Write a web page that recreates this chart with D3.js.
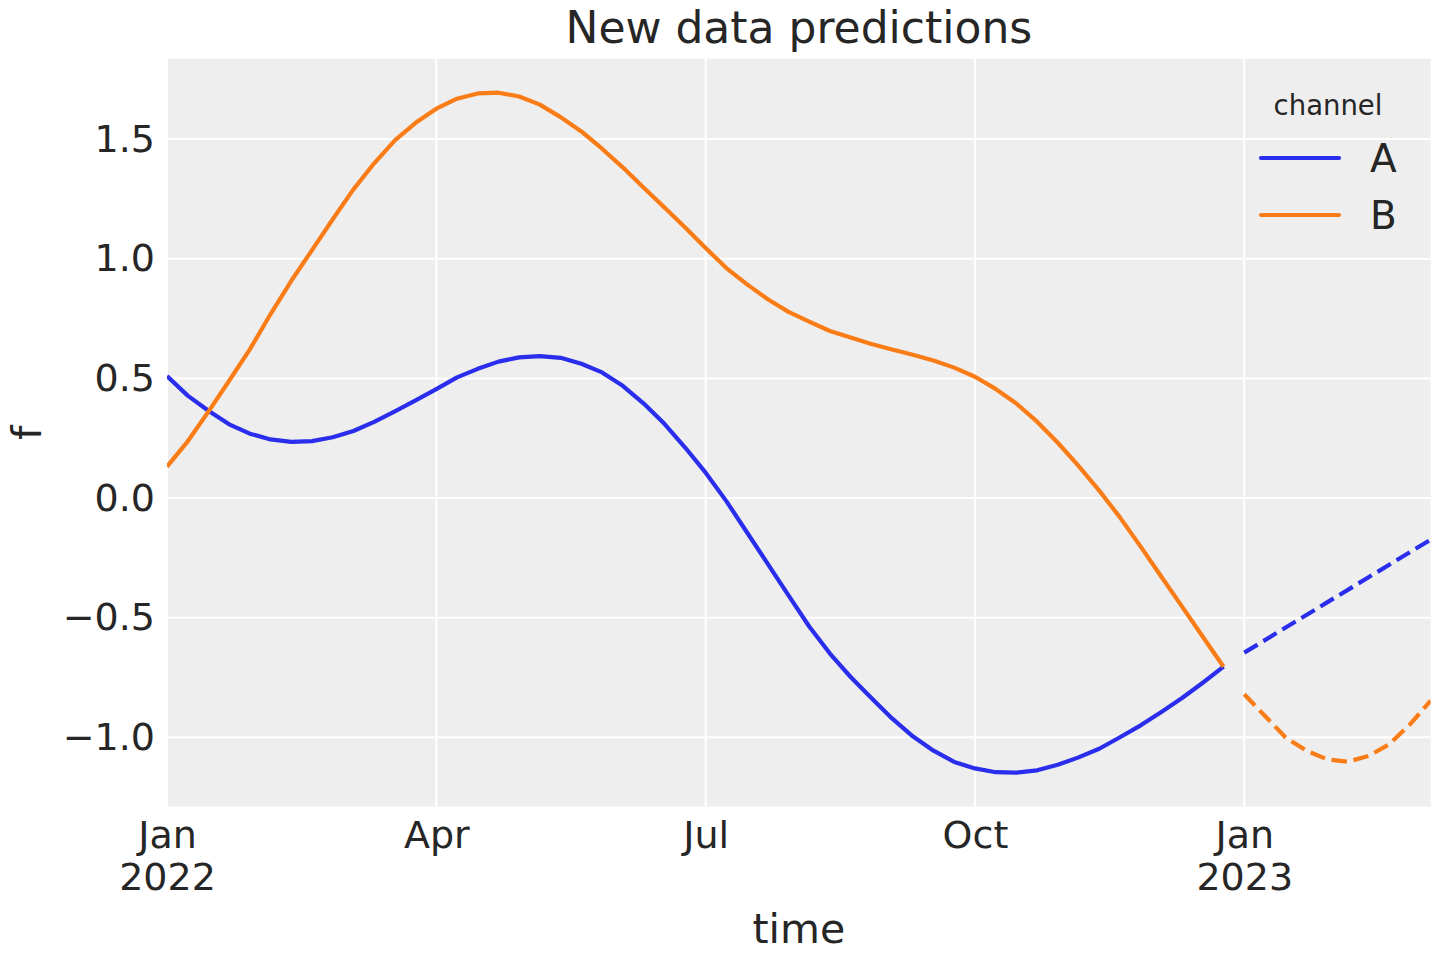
<!DOCTYPE html>
<html>
<head>
<meta charset="utf-8">
<title>New data predictions</title>
<script src="https://cdn.jsdelivr.net/npm/d3@7"></script>
<style>
  body { margin: 0; background: #ffffff; }
  svg text { font-family: "DejaVu Sans", sans-serif; fill: #262626; }
</style>
</head>
<body>
<svg id="chart" width="1440" height="960"></svg>
<script>
// weekly series, first week ends Sun 2 Jan 2022
var startDate = "2022-01-02";
var channels = ["A", "B"];
var channelColors = ["#2a2eec", "#fa7c17"];

// fitted values (solid), weeks 0..51
var fitA = [0.510, 0.428, 0.365, 0.308, 0.269, 0.245, 0.235, 0.238, 0.254, 0.280,
	    0.318, 0.362, 0.408, 0.455, 0.504, 0.540, 0.570, 0.588, 0.593, 0.586,
	    0.561, 0.525, 0.469, 0.396, 0.311, 0.212, 0.106, -0.013, -0.144, -0.275,
	    -0.407, -0.537, -0.650, -0.748, -0.836, -0.921, -0.996, -1.056, -1.103, -1.130,
	    -1.146, -1.148, -1.138, -1.115, -1.084, -1.048, -1.000, -0.950, -0.894, -0.836,
	    -0.772, -0.705];
var fitB = [0.131, 0.237, 0.361, 0.490, 0.621, 0.769, 0.908, 1.036, 1.165, 1.290,
	    1.399, 1.495, 1.568, 1.627, 1.669, 1.691, 1.694, 1.678, 1.644, 1.592,
	    1.532, 1.460, 1.382, 1.298, 1.215, 1.132, 1.045, 0.961, 0.893, 0.831,
	    0.778, 0.737, 0.698, 0.671, 0.644, 0.621, 0.599, 0.575, 0.545, 0.507,
	    0.456, 0.395, 0.319, 0.231, 0.134, 0.031, -0.081, -0.203, -0.329, -0.454,
	    -0.580, -0.705];

// new data predictions (dashed), weeks 52..61
var predA = [-0.646, -0.594, -0.541, -0.489, -0.436, -0.384, -0.331, -0.279, -0.226, -0.174];
var predB = [-0.820, -0.911, -1.001, -1.056, -1.092, -1.102, -1.078, -1.029, -0.946, -0.847];

var xTickDates = ["2022-01-02", "2022-04-03", "2022-07-03", "2022-10-02", "2023-01-01"];
var yTicks = [-1.0, -0.5, 0.0, 0.5, 1.0, 1.5];

var parse = d3.timeParse("%Y-%m-%d");
var t0 = parse(startDate);

// attach a week date to every value
var toPoints = function(vals, offset){
    return vals.map(function(v, i){
	return {date: d3.timeWeek.offset(t0, offset + i), value: v};
    });
};

var fitSeries = [toPoints(fitA, 0), toPoints(fitB, 0)];
var predSeries = [toPoints(predA, fitA.length), toPoints(predB, fitB.length)];

var margin = {left: 167, right: 1430.7, top: 58.7, bottom: 806.7};
var lw = 4.2;//line width, dashes follow matplotlib's 3.7/1.6 ratio

var svg = d3.select("#chart");

var lastDate = predSeries[0][predSeries[0].length - 1].date;
var x = d3.scaleTime()
    .domain([t0, lastDate])
    .range([margin.left, margin.right]);

// matplotlib style 5% padding on the y range
var allVals = fitA.concat(fitB, predA, predB);
var ext = d3.extent(allVals);
var pad = (ext[1] - ext[0]) * 0.05;
var y = d3.scaleLinear()
    .domain([ext[0] - pad, ext[1] + pad])
    .range([margin.bottom, margin.top]);

// background of the axes
svg.append("rect")
    .attr("x", margin.left)
    .attr("y", margin.top)
    .attr("width", margin.right - margin.left)
    .attr("height", margin.bottom - margin.top)
    .attr("fill", "#eeeeee");

svg.append("clipPath").attr("id", "plot-clip")
    .append("rect")
    .attr("x", margin.left)
    .attr("y", margin.top)
    .attr("width", margin.right - margin.left)
    .attr("height", margin.bottom - margin.top);

var xTicks = xTickDates.map(parse);

// grid
var grid = svg.append("g").attr("class", "grid");
grid.selectAll("line.gx").data(xTicks).enter()
    .append("line").attr("class", "gx")
    .attr("x1", function(d){return x(d);})
    .attr("x2", function(d){return x(d);})
    .attr("y1", margin.top)
    .attr("y2", margin.bottom)
    .attr("stroke", "#ffffff")
    .attr("stroke-width", 2);
grid.selectAll("line.gy").data(yTicks).enter()
    .append("line").attr("class", "gy")
    .attr("x1", margin.left)
    .attr("x2", margin.right)
    .attr("y1", function(d){return y(d);})
    .attr("y2", function(d){return y(d);})
    .attr("stroke", "#ffffff")
    .attr("stroke-width", 2);

// y axis, no spine or tick marks
var yAxis = d3.axisLeft(y)
    .tickValues(yTicks)
    .tickFormat(d3.format(".1f"))
    .tickSize(0)
    .tickPadding(12);
var gy = svg.append("g")
    .attr("transform", "translate(" + margin.left + ",0)")
    .call(yAxis);
gy.select(".domain").remove();
gy.selectAll("text")
    .attr("font-size", "38px")
    .attr("fill", "#262626")
    .attr("font-family", "DejaVu Sans, sans-serif");

// x axis, month label plus year under january
var monthFmt = d3.timeFormat("%b");
var yearFmt = d3.timeFormat("%Y");
var xAxis = d3.axisBottom(x)
    .tickValues(xTicks)
    .tickFormat(monthFmt)
    .tickSize(0)
    .tickPadding(10);
var gx = svg.append("g")
    .attr("transform", "translate(0," + margin.bottom + ")")
    .call(xAxis);
gx.select(".domain").remove();
gx.selectAll("text")
    .attr("font-size", "38px")
    .attr("fill", "#262626")
    .attr("font-family", "DejaVu Sans, sans-serif")
    .attr("dy", null)
    .attr("y", 41)
    .each(function(d){
	if(d.getMonth() == 0){
	    d3.select(this.parentNode).append("text")
		.attr("y", 83)
		.attr("text-anchor", "middle")
		.attr("font-size", "38px")
		.attr("fill", "#262626")
		.attr("font-family", "DejaVu Sans, sans-serif")
		.text(yearFmt(d));
	}
    });

// the lines
var line = d3.line()
    .x(function(d){return x(d.date);})
    .y(function(d){return y(d.value);});

var plot = svg.append("g").attr("clip-path", "url(#plot-clip)");

fitSeries.forEach(function(s, i){
    plot.append("path")
	.datum(s)
	.attr("d", line)
	.attr("fill", "none")
	.attr("stroke", channelColors[i])
	.attr("stroke-width", lw)
	.attr("stroke-linejoin", "round");
});

predSeries.forEach(function(s, i){
    plot.append("path")
	.datum(s)
	.attr("d", line)
	.attr("fill", "none")
	.attr("stroke", channelColors[i])
	.attr("stroke-width", lw)
	.attr("stroke-dasharray", (3.7 * lw) + "," + (1.6 * lw))
	.attr("stroke-linejoin", "round");
});

// titles
svg.append("text")
    .attr("x", (margin.left + margin.right) / 2)
    .attr("y", 43)
    .attr("text-anchor", "middle")
    .attr("font-size", "44px")
    .text("New data predictions");

svg.append("text")
    .attr("x", (margin.left + margin.right) / 2)
    .attr("y", 943)
    .attr("text-anchor", "middle")
    .attr("font-size", "41px")
    .text("time");

svg.append("text")
    .attr("transform", "translate(41," + ((margin.top + margin.bottom) / 2) + ") rotate(-90)")
    .attr("text-anchor", "middle")
    .attr("font-size", "41px")
    .text("f");

// legend (no frame)
var legend = svg.append("g");
legend.append("text")
    .attr("x", 1328)
    .attr("y", 115)
    .attr("text-anchor", "middle")
    .attr("font-size", "27.5px")
    .text("channel");

channels.forEach(function(c, i){
    var ly = 158 + i * 57;
    legend.append("line")
	.attr("x1", 1261)
	.attr("x2", 1339)
	.attr("y1", ly)
	.attr("y2", ly)
	.attr("stroke", channelColors[i])
	.attr("stroke-width", lw)
	.attr("stroke-linecap", "round");
    legend.append("text")
	.attr("x", 1370)
	.attr("y", ly + 14)
	.attr("font-size", "39px")
	.text(c);
});
</script>
</body>
</html>
